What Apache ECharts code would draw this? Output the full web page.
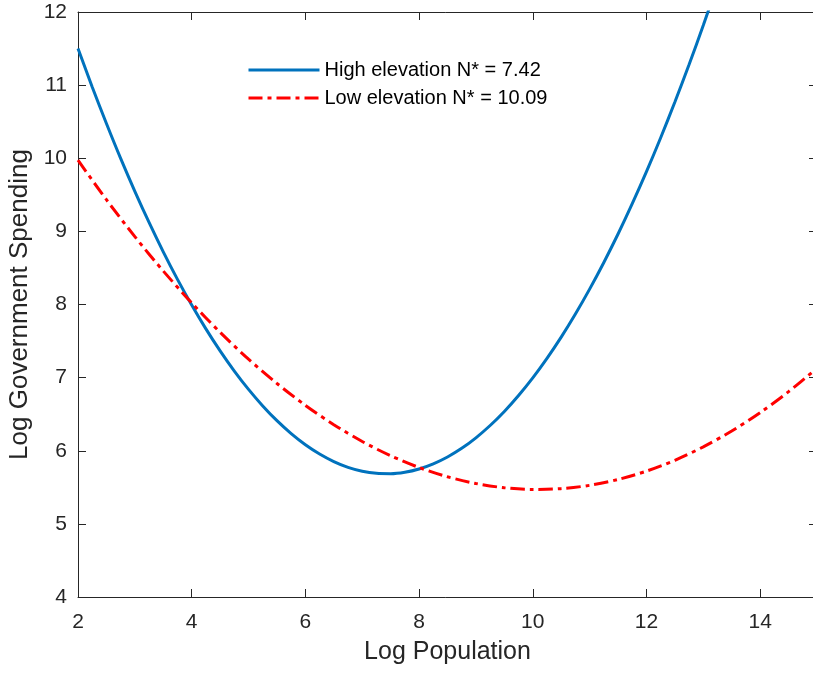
<!DOCTYPE html>
<html>
<head>
<meta charset="utf-8">
<script src="https://cdn.jsdelivr.net/npm/echarts@6/dist/echarts.min.js"></script>
<style>
html,body{margin:0;padding:0;background:#fff;overflow:hidden;}
#chart{width:813px;height:676px;}
</style>
</head>
<body>
<div id="chart"></div>
<script>
// ---- data ----
const highX = [2,2.25,2.5,2.75,3,3.25,3.5,3.75,4,4.25,4.5,4.75,5,5.25,5.5,5.75,6,6.25,6.5,6.75,7,7.25,7.5,7.75,8,8.25,8.5,8.75,9,9.25,9.5,9.75,10,10.25,10.5,10.75,11,11.25,11.5,11.75,12,12.25,12.5,12.75,13,13.25];
const highY = [11.50,10.975,10.475,9.998,9.548,9.122,8.720,8.344,7.993,7.667,7.366,7.090,6.839,6.613,6.411,6.234,6.082,5.955,5.852,5.773,5.720,5.691,5.686,5.706,5.751,5.821,5.915,6.033,6.177,6.345,6.537,6.755,6.996,7.263,7.554,7.870,8.210,8.575,8.964,9.379,9.817,10.281,10.769,11.282,11.819,12.381];
const lowX = [2,2.5,3,3.5,4,4.5,5,5.5,6,6.5,7,7.5,8,8.5,9,9.5,10,10.5,11,11.5,12,12.5,13,13.5,14,14.5,15];
const lowY = [9.973,9.433,8.928,8.458,8.022,7.620,7.252,6.920,6.621,6.357,6.127,5.932,5.771,5.644,5.552,5.494,5.471,5.482,5.527,5.607,5.721,5.870,6.053,6.270,6.522,6.808,7.129];
const seriesNames = ['High elevation N* = 7.42', 'Low elevation N* = 10.09'];
const xTicks = [2,4,6,8,10,12,14];
const yTicks = [4,5,6,7,8,9,10,11,12];

const pairs = (xs, ys) => xs.map((x, i) => [x, ys[i]]);
const axisColor = '#262626';
const font = 'Liberation Sans, Arial, sans-serif';

const chart = echarts.init(document.getElementById('chart'), null, {renderer: 'canvas'});
const baseAxis = {
  axisLine: {show: true, onZero: false, lineStyle: {color: axisColor, width: 1}},
  axisTick: {show: true, inside: true, length: 8, lineStyle: {color: axisColor, width: 1}},
  splitLine: {show: false}
};
chart.setOption({
  backgroundColor: '#ffffff',
  animation: false,
  grid: {left: 78, top: 12, width: 739, height: 585, containLabel: false, outerBoundsMode: 'none'},
  legend: {
    orient: 'vertical',
    left: 242,
    top: 55,
    itemWidth: 71,
    itemHeight: 14,
    itemGap: 8,
    itemStyle: {opacity: 0},
    lineStyle: {width: 3},
    textStyle: {fontFamily: font, fontSize: 20, color: '#000'},
    data: seriesNames
  },
  xAxis: [
    Object.assign({}, baseAxis, {
      type: 'value', min: xTicks[0], max: 15, interval: 2, position: 'bottom',
      name: 'Log Population', nameLocation: 'middle', nameGap: 43,
      nameTextStyle: {fontFamily: font, fontSize: 25, color: axisColor},
      axisLabel: {margin: 15, fontFamily: font, fontSize: 21, color: axisColor,
        formatter: v => (xTicks.indexOf(v) >= 0 ? String(v) : '')}
    }),
    Object.assign({}, baseAxis, {
      type: 'value', min: xTicks[0], max: 15, interval: 2, position: 'top',
      axisLabel: {show: false}
    })
  ],
  yAxis: [
    Object.assign({}, baseAxis, {
      type: 'value', min: yTicks[0], max: yTicks[yTicks.length - 1], interval: 1, position: 'left',
      name: 'Log Government Spending', nameLocation: 'middle', nameGap: 44,
      nameTextStyle: {fontFamily: font, fontSize: 26, color: axisColor},
      axisLabel: {margin: 11, fontFamily: font, fontSize: 21, color: axisColor}
    }),
    Object.assign({}, baseAxis, {
      type: 'value', min: yTicks[0], max: yTicks[yTicks.length - 1], interval: 1, position: 'right',
      axisLabel: {show: false}
    })
  ],
  series: [
    {
      name: seriesNames[0], type: 'line', xAxisIndex: 0, yAxisIndex: 0,
      data: pairs(highX, highY), smooth: 0.3, showSymbol: false, symbol: 'none', clip: true,
      lineStyle: {color: '#0072BD', width: 3}, itemStyle: {color: '#0072BD'}
    },
    {
      name: seriesNames[1], type: 'line', xAxisIndex: 0, yAxisIndex: 0,
      data: pairs(lowX, lowY), smooth: 0.3, showSymbol: false, symbol: 'none', clip: true,
      lineStyle: {color: '#FF0000', width: 3, type: [14, 5, 4, 5]}, itemStyle: {color: '#FF0000'}
    }
  ]
});
</script>
</body>
</html>
